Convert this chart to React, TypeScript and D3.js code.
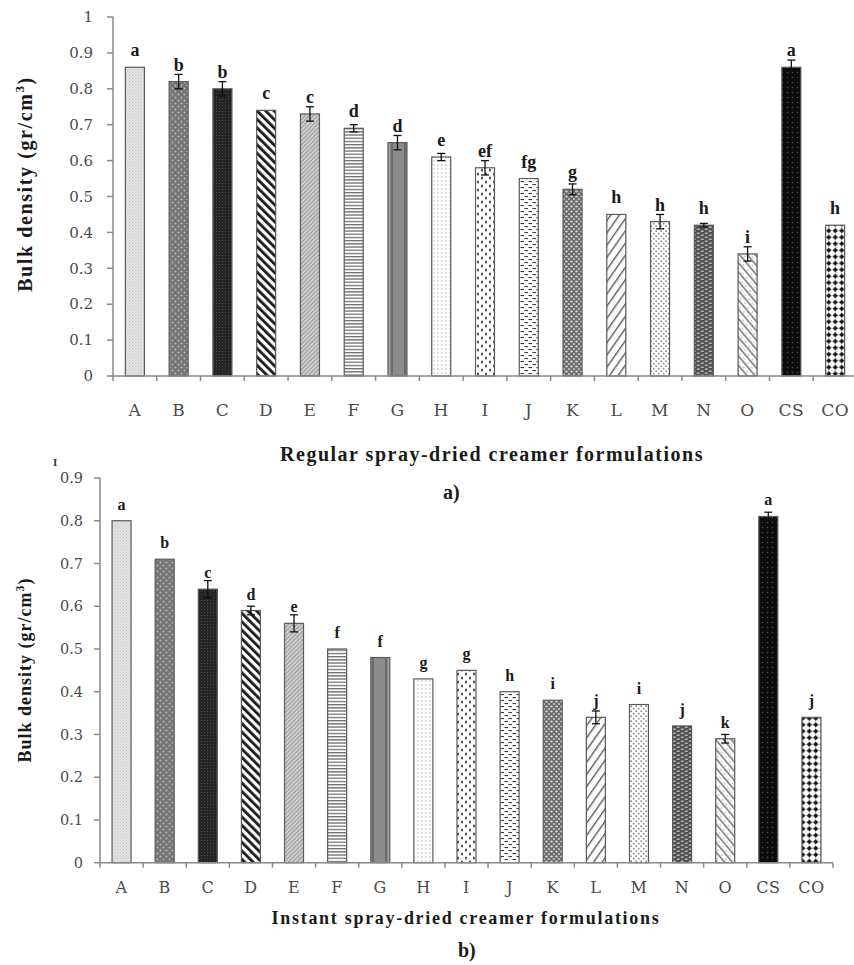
import React from "react";
import * as d3 from "d3";

const categories = ["A","B","C","D","E","F","G","H","I","J","K","L","M","N","O","CS","CO"];

const regularValues = [0.86,0.82,0.80,0.74,0.73,0.69,0.65,0.61,0.58,0.55,0.52,0.45,0.43,0.42,0.34,0.86,0.42];
const regularErrors = [0,0.02,0.02,0,0.02,0.01,0.02,0.01,0.02,0,0.015,0,0.02,0.005,0.02,0.02,0];
const regularLetters = ["a","b","b","c","c","d","d","e","ef","fg","g","h","h","h","i","a","h"];

const instantValues = [0.80,0.71,0.64,0.59,0.56,0.50,0.48,0.43,0.45,0.40,0.38,0.34,0.37,0.32,0.29,0.81,0.34];
const instantErrors = [0,0,0.02,0.01,0.02,0,0,0,0,0,0,0.015,0,0,0.01,0.01,0];
const instantLetters = ["a","b","c","d","e","f","f","g","g","h","i","j","i","j","k","a","j"];

const regularTicks = [0,0.1,0.2,0.3,0.4,0.5,0.6,0.7,0.8,0.9,1];
const instantTicks = [0,0.1,0.2,0.3,0.4,0.5,0.6,0.7,0.8,0.9];

const regularXTitle = "Regular spray-dried creamer formulations";
const instantXTitle = "Instant spray-dried creamer formulations";
const yTitleMain = "Bulk density (gr/cm";

const SERIF = "'Liberation Serif', 'Times New Roman', serif";
const TICKFONT = "'DejaVu Serif', 'Liberation Serif', serif";

const patId = (c: string) => `pat-${c}`;

function Patterns() {
  return (
    <defs>
      <pattern id={patId("A")} width="3" height="3" patternUnits="userSpaceOnUse">
        <rect width="3" height="3" fill="#e2e2e2" />
        <rect width="1" height="1" fill="#c4c4c4" />
        <rect x="1.5" y="1.5" width="1" height="1" fill="#cfcfcf" />
      </pattern>
      <pattern id={patId("B")} width="6" height="6" patternUnits="userSpaceOnUse">
        <rect width="6" height="6" fill="#767676" />
        <circle cx="1.5" cy="1.5" r="0.9" fill="#b8b8b8" />
        <circle cx="4.5" cy="4.5" r="0.9" fill="#b8b8b8" />
      </pattern>
      <pattern id={patId("C")} width="3" height="3" patternUnits="userSpaceOnUse">
        <rect width="3" height="3" fill="#242424" />
        <rect width="1" height="1" fill="#484848" />
      </pattern>
      <pattern id={patId("D")} width="6" height="6" patternUnits="userSpaceOnUse" patternTransform="rotate(-45)">
        <rect width="6" height="6" fill="#ffffff" />
        <rect width="2.8" height="6" fill="#1a1a1a" />
      </pattern>
      <pattern id={patId("E")} width="3" height="3" patternUnits="userSpaceOnUse" patternTransform="rotate(45)">
        <rect width="3" height="3" fill="#cdcdcd" />
        <rect width="1" height="3" fill="#9a9a9a" />
      </pattern>
      <pattern id={patId("F")} width="4" height="3.2" patternUnits="userSpaceOnUse">
        <rect width="4" height="3.2" fill="#ffffff" />
        <rect width="4" height="1.3" fill="#6e6e6e" />
      </pattern>
      <pattern id={patId("G")} width="19" height="4" patternUnits="userSpaceOnUse" x="0">
        <rect width="19" height="4" fill="#8c8c8c" />
        <rect x="5" width="2" height="4" fill="#6a6a6a" />
        <rect x="11" width="2" height="4" fill="#6a6a6a" />
        <rect x="8" width="2" height="4" fill="#a2a2a2" />
      </pattern>
      <pattern id={patId("H")} width="4" height="4" patternUnits="userSpaceOnUse">
        <rect width="4" height="4" fill="#ffffff" />
        <rect x="1.5" width="0.8" height="2" fill="#b0b0b0" />
      </pattern>
      <pattern id={patId("I")} width="8" height="8" patternUnits="userSpaceOnUse">
        <rect width="8" height="8" fill="#ffffff" />
        <ellipse cx="2" cy="2" rx="0.9" ry="1.6" fill="#2a2a2a" />
        <ellipse cx="6" cy="6" rx="0.9" ry="1.6" fill="#2a2a2a" />
      </pattern>
      <pattern id={patId("J")} width="8" height="6" patternUnits="userSpaceOnUse">
        <rect width="8" height="6" fill="#ffffff" />
        <rect x="0.5" y="1" width="3.5" height="1.1" fill="#3a3a3a" />
        <rect x="4.5" y="4" width="3.5" height="1.1" fill="#3a3a3a" />
      </pattern>
      <pattern id={patId("K")} width="5" height="5" patternUnits="userSpaceOnUse">
        <rect width="5" height="5" fill="#6c6c6c" />
        <ellipse cx="1.5" cy="1.5" rx="1.3" ry="0.9" fill="#d8d8d8" />
        <ellipse cx="4" cy="4" rx="1.1" ry="0.9" fill="#c8c8c8" />
      </pattern>
      <pattern id={patId("L")} width="7" height="7" patternUnits="userSpaceOnUse" patternTransform="rotate(35)">
        <rect width="7" height="7" fill="#ffffff" />
        <rect width="1.4" height="7" fill="#5a5a5a" />
      </pattern>
      <pattern id={patId("M")} width="5" height="5" patternUnits="userSpaceOnUse">
        <rect width="5" height="5" fill="#ffffff" />
        <circle cx="1.2" cy="1.2" r="0.9" fill="#8a8a8a" />
        <circle cx="3.7" cy="3.7" r="0.9" fill="#8a8a8a" />
      </pattern>
      <pattern id={patId("N")} width="8" height="4" patternUnits="userSpaceOnUse">
        <rect width="8" height="4" fill="#505050" />
        <rect x="0.8" y="0.6" width="2.8" height="1.1" fill="#e0e0e0" />
        <rect x="4.8" y="2.6" width="2.8" height="1.1" fill="#e0e0e0" />
      </pattern>
      <pattern id={patId("O")} width="6" height="6" patternUnits="userSpaceOnUse" patternTransform="rotate(-40)">
        <rect width="6" height="6" fill="#ffffff" />
        <rect width="1.6" height="6" fill="#7a7a7a" />
        <rect x="3" y="2" width="1" height="2" fill="#bdbdbd" />
      </pattern>
      <pattern id={patId("CS")} width="5" height="5" patternUnits="userSpaceOnUse">
        <rect width="5" height="5" fill="#0c0c0c" />
        <circle cx="2.5" cy="2.5" r="0.8" fill="#4a4a4a" />
      </pattern>
      <pattern id={patId("CO")} width="6.5" height="6.5" patternUnits="userSpaceOnUse">
        <rect width="6.5" height="6.5" fill="#ffffff" />
        <rect x="0" y="3" width="6.5" height="0.6" fill="#9a9a9a" />
        <rect x="3" y="0" width="0.6" height="6.5" fill="#9a9a9a" />
        <path d="M3.3,0.6 L5.9,3.3 L3.3,5.9 L0.6,3.3 Z" fill="#111111" />
      </pattern>
    </defs>
  );
}

type ChartProps = {
  values: number[];
  errors: number[];
  letters: string[];
  ticks: number[];
  yMax: number;
  y0: number;
  yTop: number;
  xStart: number;
  xEnd: number;
  axisEnd: number;
  barWidth: number;
  catLabelY: number;
  tickFont: number;
  tickGap: number;
  catFont: number;
  letterFont: number;
  yTitleX: number;
  yTitleY: number;
  yTitleFont: number;
  yTitleSpacing: number;
};

function BarChart(p: ChartProps) {
  const y = d3.scaleLinear().domain([0, p.yMax]).range([p.y0, p.yTop]);
  const x = d3.scaleBand<string>().domain(categories).range([p.xStart, p.xEnd]).paddingInner(0).paddingOuter(0);
  const bw = x.bandwidth();
  const fmt = (v: number) => (v === 0 ? "0" : v === 1 ? "1" : d3.format(".1f")(v));
  const axisColor = "#8a8a8a";
  const boundaries = categories.map((c) => x(c)!).concat([p.xEnd]).filter((b) => b <= p.axisEnd + 0.5);
  return (
    <g>
      {categories.map((c, i) => {
        const cx = x(c)! + bw / 2;
        return (
          <rect
            key={c}
            x={cx - p.barWidth / 2}
            y={y(p.values[i])}
            width={p.barWidth}
            height={p.y0 - y(p.values[i])}
            fill={`url(#${patId(c)})`}
            stroke="#5a5a5a"
            strokeWidth={1.2}
          />
        );
      })}
      {categories.map((c, i) => {
        const e = p.errors[i];
        if (!e) return null;
        const cx = x(c)! + bw / 2;
        const yt = y(p.values[i] + e);
        const yb = y(p.values[i] - e);
        return (
          <g key={`e-${c}`} stroke="#111" strokeWidth={1.3}>
            <line x1={cx} x2={cx} y1={yt} y2={yb} />
            <line x1={cx - 4} x2={cx + 4} y1={yt} y2={yt} />
            <line x1={cx - 4} x2={cx + 4} y1={yb} y2={yb} />
          </g>
        );
      })}
      {categories.map((c, i) => {
        const cx = x(c)! + bw / 2;
        return (
          <text
            key={`l-${c}`}
            x={cx}
            y={y(p.values[i]) - 11}
            textAnchor="middle"
            fontFamily={SERIF}
            fontWeight="bold"
            fontSize={p.letterFont}
            fill="#1a1a1a"
          >
            {p.letters[i]}
          </text>
        );
      })}
      <line x1={p.xStart} x2={p.xStart} y1={p.y0} y2={y(p.yMax)} stroke={axisColor} strokeWidth={1.5} />
      {p.ticks.map((t) => (
        <g key={`t-${t}`}>
          <line x1={p.xStart - 6} x2={p.xStart} y1={y(t)} y2={y(t)} stroke={axisColor} strokeWidth={1.5} />
          <text
            x={p.xStart - p.tickGap}
            y={y(t)}
            dy="0.35em"
            textAnchor="end"
            fontFamily={TICKFONT}
            fontSize={p.tickFont}
            fill="#4a4a4a"
          >
            {fmt(t)}
          </text>
        </g>
      ))}
      <line x1={p.xStart} x2={p.axisEnd} y1={p.y0} y2={p.y0} stroke={axisColor} strokeWidth={1.5} />
      {boundaries.map((b, i) => (
        <line key={`xt-${i}`} x1={b} x2={b} y1={p.y0} y2={p.y0 + 5} stroke={axisColor} strokeWidth={1.5} />
      ))}
      {categories.map((c) => (
        <text
          key={`c-${c}`}
          x={x(c)! + bw / 2}
          y={p.catLabelY}
          textAnchor="middle"
          fontFamily={TICKFONT}
          fontSize={p.catFont}
          fill="#4a4a4a"
          letterSpacing={0.5}
        >
          {c}
        </text>
      ))}
      <text
        transform={`translate(${p.yTitleX},${p.yTitleY}) rotate(-90)`}
        textAnchor="middle"
        dy="0.35em"
        fontFamily={SERIF}
        fontWeight="bold"
        fontSize={p.yTitleFont}
        letterSpacing={p.yTitleSpacing}
        fill="#1a1a1a"
      >
        {yTitleMain}
        <tspan fontSize={p.yTitleFont * 0.65} dy={-p.yTitleFont * 0.4}>3</tspan>
        <tspan dy={p.yTitleFont * 0.4}>)</tspan>
      </text>
    </g>
  );
}

export default function App() {
  return (
    <svg
      width={854}
      height={965}
      viewBox="0 0 854 965"
      style={{ position: "absolute", left: 0, top: 0, background: "#ffffff" }}
    >
      <rect width={854} height={965} fill="#ffffff" />
      <Patterns />
      <BarChart
        values={regularValues}
        errors={regularErrors}
        letters={regularLetters}
        ticks={regularTicks}
        yMax={1}
        y0={376}
        yTop={17}
        xStart={113}
        xEnd={857}
        axisEnd={857}
        barWidth={19}
        catLabelY={416}
        tickFont={15}
        tickGap={20}
        catFont={17}
        letterFont={18}
        yTitleX={25}
        yTitleY={184}
        yTitleFont={20}
        yTitleSpacing={1.6}
      />
      <text x={492} y={461} textAnchor="middle" fontFamily={SERIF} fontWeight="bold" fontSize={20} letterSpacing={1.5} fill="#1a1a1a">
        {regularXTitle}
      </text>
      <text x={443} y={499} fontFamily={SERIF} fontWeight="bold" fontSize={20} fill="#1a1a1a">a)</text>
      <text x={53} y={466} fontFamily={SERIF} fontWeight="bold" fontSize={11} fill="#333">I</text>
      <BarChart
        values={instantValues}
        errors={instantErrors}
        letters={instantLetters}
        ticks={instantTicks}
        yMax={0.9}
        y0={862.7}
        yTop={478}
        xStart={100}
        xEnd={833}
        axisEnd={833}
        barWidth={19}
        catLabelY={893}
        tickFont={14.5}
        tickGap={17}
        catFont={16}
        letterFont={16}
        yTitleX={25}
        yTitleY={670}
        yTitleFont={18}
        yTitleSpacing={1}
      />
      <text x={466} y={924} textAnchor="middle" fontFamily={SERIF} fontWeight="bold" fontSize={18} letterSpacing={1.7} fill="#1a1a1a">
        {instantXTitle}
      </text>
      <text x={458} y={957} fontFamily={SERIF} fontWeight="bold" fontSize={20} fill="#1a1a1a">b)</text>
    </svg>
  );
}
